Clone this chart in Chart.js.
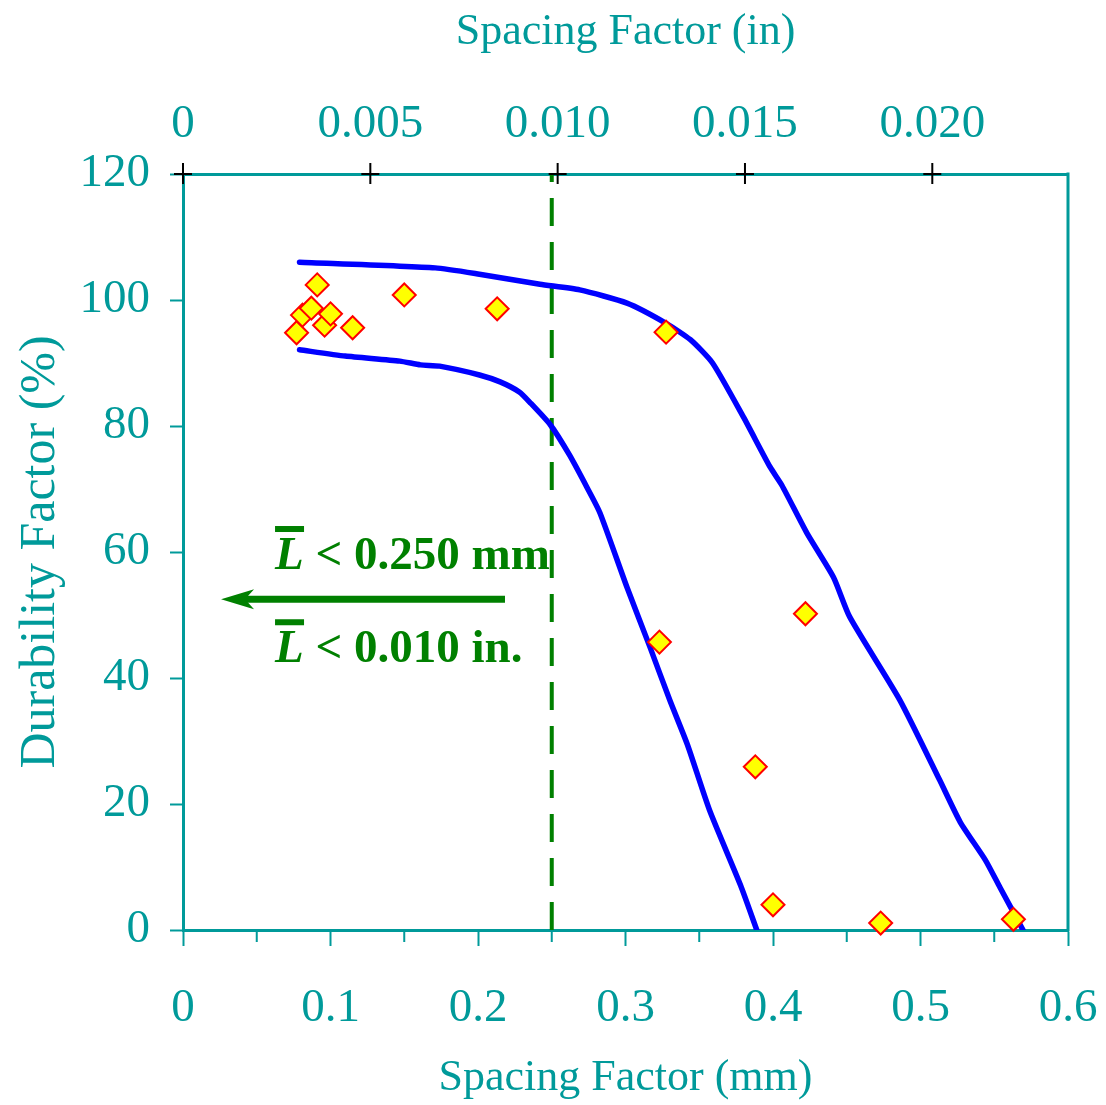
<!DOCTYPE html>
<html>
<head>
<meta charset="utf-8">
<script src="https://cdn.jsdelivr.net/npm/chart.js@4.4.0/dist/chart.umd.min.js"></script>
<style>
  html, body { margin: 0; padding: 0; background: #fff; }
  #wrap { width: 1106px; height: 1105px; }
</style>
</head>
<body>
<div id="wrap"><canvas id="chart"></canvas></div>
<script>
// test results (spacing factor mm, durability factor %)
const testX = [0.077, 0.081, 0.087, 0.091, 0.096, 0.100, 0.115, 0.150, 0.213, 0.3275, 0.323, 0.422, 0.388, 0.400, 0.473, 0.563];
const testY = [94.8, 97.6, 98.7, 102.4, 96.0, 97.8, 95.6, 100.8, 98.6, 94.9, 45.7, 50.2, 25.9, 4.0, 1.1, 1.7];

// upper envelope
const upperX = [0.079, 0.171, 0.201, 0.242, 0.269, 0.301, 0.3275, 0.344, 0.359, 0.380, 0.398, 0.406, 0.423, 0.441, 0.452, 0.486, 0.513, 0.527, 0.544, 0.554, 0.5695];
const upperY = [106.0, 105.1, 104.1, 102.5, 101.6, 99.5, 96.3, 93.7, 90.0, 81.4, 73.5, 70.6, 63.0, 56.0, 49.7, 36.5, 23.8, 17.1, 11.1, 6.7, 0];

// lower envelope
const lowerX = [0.079, 0.110, 0.147, 0.161, 0.174, 0.201, 0.215, 0.228, 0.235, 0.249, 0.262, 0.274, 0.2827, 0.301, 0.3166, 0.330, 0.342, 0.357, 0.378, 0.389];
const lowerY = [92.1, 91.1, 90.3, 89.7, 89.5, 88.1, 87.0, 85.4, 83.8, 80.2, 75.4, 70.2, 66.2, 54.4, 44.9, 36.5, 29.4, 19.0, 7.1, 0];

// limit line and annotation (data units)
const limitMm = 0.25;
const limitY = [0, 120];
const arrowFrom = 0.2183, arrowTo = 0.0258, arrowY = 52.5;
const noteX = 0.0624, noteY1 = 57.3, noteY2 = 42.5;
const noteText1 = ' < 0.250 mm';
const noteText2 = ' < 0.010 in.';

// axis settings
const mmMax = 0.6;
const inMax = mmMax / 25.4;
const minorTicks = [0.05, 0.15, 0.25, 0.35, 0.45, 0.55];

const teal = '#009a9a';
const green = '#008000';
const serif = '"Liberation Serif", "Times New Roman", serif';

const toPts = (xs, ys) => xs.map((v, i) => ({ x: v, y: ys[i] }));

const extras = {
  id: 'extras',
  afterDraw(chart) {
    const { ctx, chartArea: a, scales } = chart;
    const x = scales.x, y = scales.y, x2 = scales.x2;
    ctx.save();

    // right frame
    ctx.strokeStyle = teal;
    ctx.lineWidth = 3;
    ctx.beginPath();
    ctx.moveTo(a.right, a.top - 1.5);
    ctx.lineTo(a.right, a.bottom + 1.5);
    ctx.stroke();

    // minor ticks on the mm axis
    ctx.lineWidth = 2;
    minorTicks.forEach(v => {
      const px = x.getPixelForValue(v);
      ctx.beginPath();
      ctx.moveTo(px, a.bottom);
      ctx.lineTo(px, a.bottom + 12);
      ctx.stroke();
    });

    // black crosses on the inch axis
    ctx.strokeStyle = '#000';
    ctx.lineWidth = 2;
    x2.ticks.forEach(t => {
      const px = x2.getPixelForValue(t.value);
      ctx.beginPath();
      ctx.moveTo(px, a.top - 11);
      ctx.lineTo(px, a.top + 10);
      ctx.moveTo(px - 9, a.top);
      ctx.lineTo(px + 9, a.top);
      ctx.stroke();
    });

    // arrow
    const ax0 = x.getPixelForValue(arrowFrom);
    const ax1 = x.getPixelForValue(arrowTo);
    const ay = y.getPixelForValue(arrowY);
    ctx.strokeStyle = green;
    ctx.fillStyle = green;
    ctx.lineWidth = 7;
    ctx.beginPath();
    ctx.moveTo(ax1 + 20, ay);
    ctx.lineTo(ax0, ay);
    ctx.stroke();
    ctx.beginPath();
    ctx.moveTo(ax1, ay);
    ctx.lineTo(ax1 + 33, ay - 10);
    ctx.lineTo(ax1 + 24, ay);
    ctx.lineTo(ax1 + 33, ay + 10);
    ctx.closePath();
    ctx.fill();

    // L-bar labels
    const tx = x.getPixelForValue(noteX);
    [[noteY1, noteText1], [noteY2, noteText2]].forEach(([v, s]) => {
      const by = y.getPixelForValue(v);
      ctx.textBaseline = 'alphabetic';
      ctx.textAlign = 'left';
      ctx.font = 'bold italic 47px ' + serif;
      ctx.fillText('L', tx, by);
      const lw = ctx.measureText('L').width;
      ctx.fillRect(tx, by - 43, 29, 6);
      ctx.font = 'bold 47px ' + serif;
      ctx.fillText(s, tx + lw, by);
    });

    ctx.restore();
  }
};

const noSidePad = s => { s.paddingLeft = 0; s.paddingRight = 0; };

new Chart(document.getElementById('chart'), {
  type: 'scatter',
  data: {
    datasets: [
      {
        label: 'Tests',
        data: toPts(testX, testY),
        pointStyle: 'rectRot',
        pointRadius: 11.5,
        pointBackgroundColor: '#ffff00',
        pointBorderColor: '#ff0000',
        pointBorderWidth: 2,
        showLine: false,
        clip: false,
        order: 0
      },
      {
        label: 'Upper',
        data: toPts(upperX, upperY),
        showLine: true,
        borderColor: '#0000ff',
        borderWidth: 5.5,
        pointRadius: 0,
        tension: 0.2,
        borderCapStyle: 'round',
        order: 1
      },
      {
        label: 'Lower',
        data: toPts(lowerX, lowerY),
        showLine: true,
        borderColor: '#0000ff',
        borderWidth: 5.5,
        pointRadius: 0,
        tension: 0.2,
        borderCapStyle: 'round',
        order: 1
      },
      {
        label: 'Limit',
        data: limitY.map(v => ({ x: limitMm, y: v })),
        showLine: true,
        borderColor: green,
        borderWidth: 4,
        borderDash: [28, 16],
        pointRadius: 0,
        clip: false,
        order: 2
      }
    ]
  },
  options: {
    responsive: true,
    maintainAspectRatio: false,
    animation: false,
    layout: { padding: { left: 0, right: 38, top: 0, bottom: 0 } },
    plugins: { legend: { display: false }, tooltip: { enabled: false } },
    scales: {
      x: {
        type: 'linear',
        position: 'bottom',
        min: 0,
        max: mmMax,
        afterFit: s => { s.height = 175; noSidePad(s); },
        ticks: { stepSize: 0.1, includeBounds: false, color: teal, padding: 34, maxRotation: 0, font: { family: serif, size: 47 } },
        grid: { drawOnChartArea: false, tickLength: 16, tickColor: teal, tickWidth: 2 },
        border: { color: teal, width: 3 },
        title: { display: true, text: 'Spacing Factor (mm)', color: teal, padding: { top: 0, bottom: 0 }, font: { family: serif, size: 44 } }
      },
      x2: {
        type: 'linear',
        position: 'top',
        min: 0,
        max: inMax,
        afterFit: s => { s.height = 174; noSidePad(s); },
        ticks: { stepSize: 0.005, includeBounds: false, color: teal, padding: 21, maxRotation: 0,
          font: { family: serif, size: 47 },
          callback: v => v === 0 ? '0' : v.toFixed(3) },
        grid: { drawOnChartArea: false, drawTicks: false },
        border: { color: teal, width: 3 },
        title: { display: true, text: 'Spacing Factor (in)', color: teal, padding: { top: 6, bottom: 0 }, font: { family: serif, size: 44 } }
      },
      y: {
        type: 'linear',
        position: 'left',
        min: 0,
        max: 120,
        afterFit: s => { s.width = 183; s.paddingTop = 0; s.paddingBottom = 0; },
        ticks: { stepSize: 20, includeBounds: false, color: teal, padding: 20, font: { family: serif, size: 47 } },
        grid: { drawOnChartArea: false, tickLength: 13, tickColor: teal, tickWidth: 2 },
        border: { color: teal, width: 3 },
        title: { display: true, text: 'Durability Factor (%)', color: teal, padding: { top: 11, bottom: 0 }, font: { family: serif, size: 50 } }
      }
    }
  },
  plugins: [extras]
});
</script>
</body>
</html>
